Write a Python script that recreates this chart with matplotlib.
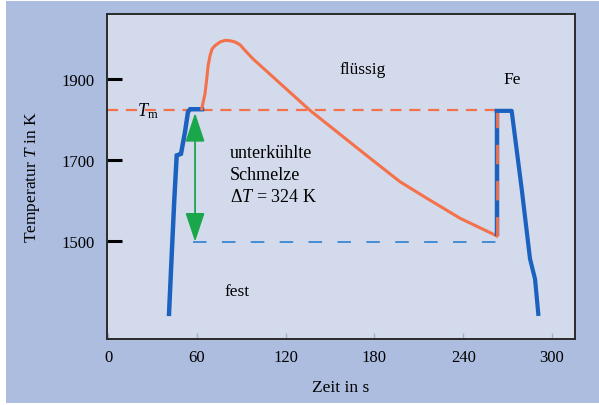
import matplotlib
matplotlib.use('Agg')
import matplotlib.pyplot as plt
from matplotlib.patches import Rectangle, FancyArrowPatch, ArrowStyle

plt.rcParams['font.family'] = ['Liberation Serif', 'DejaVu Serif']
plt.rcParams['mathtext.fontset'] = 'custom'
plt.rcParams['mathtext.rm'] = 'Liberation Serif'
plt.rcParams['mathtext.it'] = 'Liberation Serif:italic'

# heating curve (solid) up to the melting plateau
heat_t = [41.2, 43.0, 44.8, 46.4, 49.3, 52.0, 54.0, 55.4, 63.5]
heat_T = [1320, 1464, 1604, 1711, 1715, 1769, 1818, 1825, 1825]

# liquid: overheating and undercooling
liq_t = [63.3, 65.5, 66.7, 67.6, 68.9, 70.3, 72.3, 75.7, 79.1, 82.4, 85.8,
         89.2, 92.6, 98.0, 136.5, 152.0, 175.0, 197.3, 215.5, 237.8, 260.1, 262.6]
liq_T = [1826, 1863, 1900, 1932, 1957, 1974, 1982, 1991, 1995, 1994, 1991,
         1984, 1970, 1949, 1822, 1777, 1710, 1646, 1605, 1556, 1517, 1512]

# recalescence and solid cooling
recal_t = [262.6, 262.6]
recal_T = [1512, 1821]
sol_t = [262.6, 272.7, 279.5, 285.1, 288.5, 290.7]
sol_T = [1821, 1821, 1628, 1456, 1406, 1320]

T_m = 1822
T_u = 1498
dT = 324

xticks = [0, 60, 120, 180, 240, 300]
yticks = [1500, 1700, 1900]

blue = '#1b62c0'
orange = '#f4714a'
green = '#1aa64b'

fig = plt.figure(figsize=(5.99, 4.06), dpi=100)
fig.patch.set_facecolor('white')
fig.patches.append(Rectangle((6/599, 2/406), 1 - 6/599, 1 - 4/406,
                             transform=fig.transFigure, facecolor='#adbde0',
                             edgecolor='none', zorder=-10))

ax = fig.add_axes([107/599, 66/406, 468/599, 325/406])
ax.set_facecolor('#d3daec')
ax.set_xlim(-0.7, 315.5)
ax.set_ylim(1258, 2060)

# reference lines
ax.plot([-0.7, 262.6], [T_m, T_m], color=orange, lw=1.6, dashes=(5, 3.5))
ax.plot([57.4, 262.6], [T_u, T_u], color='#3a86d0', lw=1.3, dashes=(7.5, 8.5))

ax.plot(heat_t, heat_T, color=blue, lw=3.2, solid_joinstyle='miter')
ax.plot(liq_t, liq_T, color=orange, lw=2.2)
ax.plot(recal_t, recal_T, color=blue, lw=3.2, solid_capstyle='butt')
ax.plot(recal_t, recal_T, color=orange, lw=2.0, dashes=(7, 6))
ax.plot(sol_t, sol_T, color=blue, lw=3.0)

arr = FancyArrowPatch((58.8, T_u), (58.8, T_m - 6),
                      arrowstyle=ArrowStyle('<|-|>', head_length=1.8, head_width=0.6),
                      mutation_scale=10, color=green, lw=1.3, shrinkA=0, shrinkB=0)
ax.add_patch(arr)

ax.text(172, 1924, 'flüssig', fontsize=12.5, ha='center', va='center')
ax.text(273, 1900, 'Fe', fontsize=12.5, ha='center', va='center')
ax.text(27, 1822, r'$T_\mathrm{m}$', fontsize=13, ha='center', va='center')
ax.text(82.4, 1738, 'unterkühlte\nSchmelze\n' + r'$\mathit{\Delta T}$ = ' + str(dT) + ' K',
        fontsize=13, ha='left', va='top', linespacing=1.35)
ax.text(87, 1377, 'fest', fontsize=12.5, ha='center', va='center')

ax.set_xticks(xticks)
ax.set_yticks(yticks)
ax.tick_params(axis='y', direction='in', length=11, width=2.2, color='black',
               labelsize=12, pad=9)
ax.tick_params(axis='x', direction='in', length=4, width=1, color='#9fb0cf',
               labelsize=12, pad=7)
for s in ax.spines.values():
    s.set_color('#2a2a2a')
    s.set_linewidth(1.4)

ax.set_xlabel('Zeit in s', fontsize=12.5, labelpad=10)
ax.set_ylabel(r'Temperatur $T$ in K', fontsize=12.5, labelpad=14)

plt.savefig('out.png', dpi=100)
